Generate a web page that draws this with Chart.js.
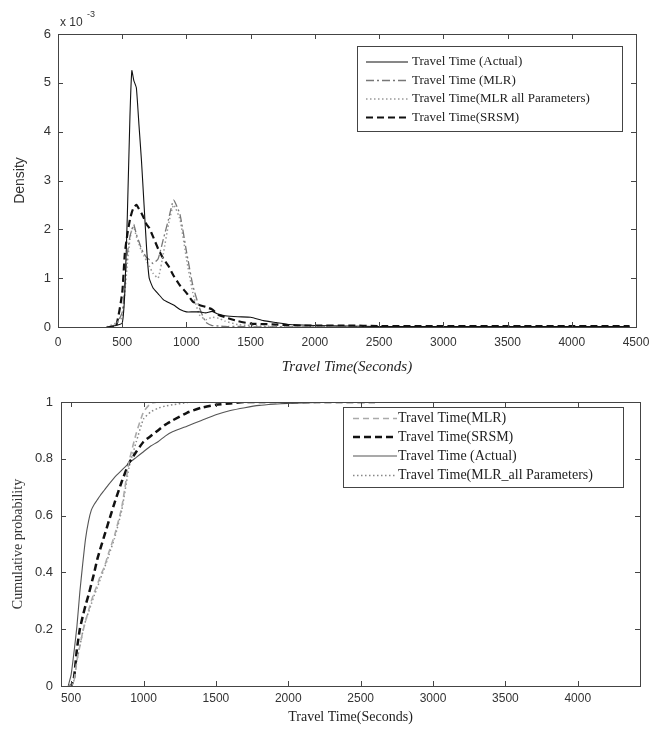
<!DOCTYPE html>
<html>
<head>
<meta charset="utf-8">
<script src="https://cdn.jsdelivr.net/npm/chart.js@4.4.0/dist/chart.umd.min.js"></script>
<style>
  html,body{margin:0;padding:0;background:#fff;}
  #wrap{position:relative;width:664px;height:733px;overflow:hidden;background:#fff;}
  canvas{position:absolute;left:0;}
</style>
</head>
<body>
<div id="wrap">
  <canvas id="c1" width="664" height="380" style="top:0;width:664px;height:380px"></canvas>
  <canvas id="c2" width="664" height="353" style="top:380px;width:664px;height:353px"></canvas>
</div>
<script>
// ---------- Top chart: density (x 10^-3) ----------
const densX = [380,450,500,520,540,560,575,590,610,630,650,670,690,710,740,780,820,860,900,950,1000,1050,1100,1150,1200,1250,1300,1400,1500,1600,1700,1800,1900,2000,2250,2500,3000,3500,4000,4450];
const densActual = [0,0.03,0.08,0.7,2.3,4.3,5.25,5.05,4.9,4.15,3.4,2.5,1.6,1.0,0.8,0.68,0.56,0.5,0.45,0.36,0.31,0.31,0.31,0.29,0.32,0.26,0.23,0.21,0.2,0.13,0.09,0.05,0.04,0.03,0.02,0.01,0.01,0.01,0.01,0.01];
const densMLR = [0,0.05,0.3,0.9,1.5,1.85,2.0,2.1,1.9,1.75,1.6,1.5,1.42,1.38,1.3,1.4,1.8,2.2,2.6,2.3,1.55,0.85,0.4,0.1,0.03,0.02,0.01,0.01,0,0,0,0,0,0,0,0,0,0,0,0];
const densMLRAll = [0,0.08,0.2,0.7,1.3,1.8,2.0,2.05,1.85,1.7,1.55,1.45,1.35,1.25,1.1,1.0,1.5,2.1,2.5,2.2,1.4,0.7,0.25,0.15,0.2,0.18,0.12,0.05,0.03,0.02,0.01,0,0,0,0,0,0,0,0,0];
const densSRSM = [0,0,0.7,1.5,1.9,2.2,2.35,2.45,2.5,2.42,2.33,2.22,2.1,2.03,1.85,1.6,1.4,1.25,1.05,0.85,0.7,0.52,0.45,0.41,0.36,0.25,0.2,0.12,0.07,0.06,0.05,0.04,0.03,0.03,0.03,0.02,0.02,0.02,0.02,0.02];
const densTicksX = [0,500,1000,1500,2000,2500,3000,3500,4000,4500];
const densTicksY = [0,1,2,3,4,5,6];

// ---------- Bottom chart: cumulative probability ----------
const cdfX = [480,500,520,540,560,580,600,620,640,660,680,700,730,760,800,850,900,950,1000,1050,1100,1150,1200,1300,1400,1500,1600,1700,1800,1900,2000,2200,2400,2600];
const cdfActual = [0,0.04,0.12,0.21,0.33,0.43,0.52,0.58,0.62,0.64,0.655,0.67,0.69,0.71,0.735,0.76,0.785,0.805,0.825,0.845,0.86,0.88,0.895,0.915,0.935,0.955,0.97,0.98,0.988,0.992,0.995,0.998,1.0,1.0];
const cdfMLR = [0,0,0.02,0.09,0.14,0.19,0.23,0.265,0.3,0.33,0.355,0.385,0.42,0.47,0.53,0.63,0.79,0.89,0.965,0.995,1,1,1,1,1,1,1,1,1,1,1,1,1,1];
const cdfSRSM = [0,0,0.03,0.13,0.2,0.245,0.285,0.32,0.36,0.4,0.445,0.48,0.53,0.58,0.645,0.72,0.785,0.825,0.86,0.88,0.9,0.92,0.935,0.962,0.98,0.99,0.995,1,1,1,1,1,1,1];
const cdfMLRAll = [0,0,0.02,0.09,0.14,0.19,0.23,0.26,0.29,0.32,0.345,0.375,0.415,0.46,0.52,0.62,0.77,0.86,0.94,0.965,0.978,0.986,0.99,0.998,1,1,1,1,1,1,1,1,1,1];
const cdfTicksX = [500,1000,1500,2000,2500,3000,3500,4000];
const cdfTicksY = [0,0.2,0.4,0.6,0.8,1];
const cdfTickLabelsY = ['0','0.2','0.4','0.6','0.8','1'];

function pts(xs, ys){ return xs.map((x,i)=>({x:x, y:ys[i]})); }

// frame with inward ticks on all four sides
const framePlugin = {
  id:'frame',
  afterDatasetsDraw(chart){
    const {ctx, chartArea:a, scales:{x,y}} = chart;
    ctx.save();
    ctx.strokeStyle = '#444';
    ctx.lineWidth = 1;
    ctx.setLineDash([]);
    ctx.strokeRect(Math.round(a.left)+0.5, Math.round(a.top)+0.5, Math.round(a.right-a.left), Math.round(a.bottom-a.top));
    const L = 5;
    ctx.beginPath();
    x.ticks.forEach(t=>{
      const px = Math.round(x.getPixelForValue(t.value))+0.5;
      ctx.moveTo(px, a.bottom); ctx.lineTo(px, a.bottom-L);
      ctx.moveTo(px, a.top); ctx.lineTo(px, a.top+L);
    });
    y.ticks.forEach(t=>{
      const py = Math.round(y.getPixelForValue(t.value))+0.5;
      ctx.moveTo(a.left, py); ctx.lineTo(a.left+L, py);
      ctx.moveTo(a.right, py); ctx.lineTo(a.right-L, py);
    });
    ctx.stroke();
    ctx.restore();
  }
};

// MATLAB-like legend box
const boxLegend = {
  id:'boxLegend',
  afterDraw(chart, args, o){
    if(!o || !o.box) return;
    const ctx = chart.ctx;
    const [l,t,r,b] = o.box;
    ctx.save();
    ctx.fillStyle = '#fff';
    ctx.fillRect(l,t,r-l,b-t);
    ctx.strokeStyle = '#444'; ctx.lineWidth = 1; ctx.setLineDash([]);
    ctx.strokeRect(l+0.5,t+0.5,r-l,b-t);
    ctx.font = o.font;
    ctx.textBaseline = 'middle';
    ctx.fillStyle = '#222';
    chart.data.datasets.forEach((ds,i)=>{
      const yy = o.rows[i];
      ctx.save();
      ctx.strokeStyle = ds.borderColor;
      ctx.lineWidth = ds.borderWidth;
      ctx.setLineDash(ds.borderDash || []);
      ctx.beginPath();
      ctx.moveTo(o.sample[0], yy); ctx.lineTo(o.sample[1], yy);
      ctx.stroke();
      ctx.restore();
      ctx.fillText(ds.label, o.textX, yy);
    });
    ctx.restore();
  }
};

const expPlugin = {
  id:'expLabel',
  afterDraw(chart, args, o){
    if(!o || !o.show) return;
    const ctx = chart.ctx;
    ctx.save();
    ctx.fillStyle = '#333';
    ctx.textBaseline = 'middle';
    ctx.font = '12px "Liberation Sans", Arial, sans-serif';
    ctx.fillText('x 10', 60, 23);
    ctx.font = '9px "Liberation Sans", Arial, sans-serif';
    ctx.fillText('-3', 87, 15);
    ctx.restore();
  }
};

const tickFont = {family:'"Liberation Sans", Arial, sans-serif', size:12};

function lineDs(label, xs, ys, color, width, dash){
  return {label, data:pts(xs,ys), borderColor:color, borderWidth:width, borderDash:dash,
          pointRadius:0, fill:false, tension:0.15, backgroundColor:color};
}

new Chart(document.getElementById('c1'), {
  type:'line',
  data:{datasets:[
    lineDs('Travel Time (Actual)', densX, densActual, '#111', 1.1, []),
    lineDs('Travel Time (MLR)', densX, densMLR, '#777', 1.3, [8,3,2,3]),
    lineDs('Travel Time(MLR all Parameters)', densX, densMLRAll, '#999', 1.5, [1.5,2.5]),
    lineDs('Travel Time(SRSM)', densX, densSRSM, '#111', 2.2, [7,4])
  ]},
  options:{
    responsive:false, animation:false,
    layout:{padding:{left:0,right:28,top:34,bottom:0}},
    plugins:{legend:{display:false}, tooltip:{enabled:false},
      boxLegend:{box:[357,46,622,131], rows:[62,80.5,99,117.5], sample:[366,408], textX:412,
                 font:'13px "Liberation Serif", "Times New Roman", serif'},
      expLabel:{show:true}},
    scales:{
      x:{type:'linear', min:0, max:4500,
         afterBuildTicks:s=>{s.ticks = densTicksX.map(v=>({value:v}));},
         afterFit:s=>{s.height = 53;},
         grid:{display:false, drawTicks:false}, border:{display:false},
         ticks:{padding:8, color:'#333', font:tickFont, maxRotation:0, autoSkip:false, callback:v=>String(v)},
         title:{display:true, text:'Travel Time(Seconds)', color:'#222',
                font:{family:'"Liberation Serif", "Times New Roman", serif', size:15, style:'italic'},
                padding:{top:0,bottom:4}}},
      y:{type:'linear', min:0, max:6,
         afterBuildTicks:s=>{s.ticks = densTicksY.map(v=>({value:v}));},
         afterFit:s=>{s.width = 58;},
         grid:{display:false, drawTicks:false}, border:{display:false},
         ticks:{padding:7, color:'#333', font:{family:'"Liberation Sans", Arial, sans-serif', size:13}, callback:v=>String(v)},
         title:{display:true, text:'Density', color:'#333',
                font:{family:'"Liberation Sans", Arial, sans-serif', size:14},
                padding:{top:12,bottom:0}}}
    }
  },
  plugins:[framePlugin, boxLegend, expPlugin]
});

new Chart(document.getElementById('c2'), {
  type:'line',
  data:{datasets:[
    lineDs('Travel Time(MLR)', cdfX, cdfMLR, '#aaa', 1.6, [6,4]),
    lineDs('Travel Time(SRSM)', cdfX, cdfSRSM, '#111', 2.5, [7,4]),
    lineDs('Travel Time (Actual)', cdfX, cdfActual, '#555', 1.1, []),
    lineDs('Travel Time(MLR_all Parameters)', cdfX, cdfMLRAll, '#888', 1.5, [1.5,2.5])
  ]},
  options:{
    responsive:false, animation:false,
    layout:{padding:{left:0,right:24,top:22,bottom:0}},
    plugins:{legend:{display:false}, tooltip:{enabled:false},
      boxLegend:{box:[343,27,623,107], rows:[38.5,57,76,95.5], sample:[353,397], textX:398,
                 font:'14px "Liberation Serif", "Times New Roman", serif'}},
    scales:{
      x:{type:'linear', min:430, max:4430,
         afterBuildTicks:s=>{s.ticks = cdfTicksX.map(v=>({value:v}));},
         afterFit:s=>{s.height = 47;},
         grid:{display:false, drawTicks:false}, border:{display:false},
         ticks:{padding:5, color:'#333', font:tickFont, maxRotation:0, autoSkip:false, callback:v=>String(v)},
         title:{display:true, text:'Travel Time(Seconds)', color:'#222',
                font:{family:'"Liberation Serif", "Times New Roman", serif', size:14},
                padding:{top:0,bottom:7}}},
      y:{type:'linear', min:0, max:1,
         afterBuildTicks:s=>{s.ticks = cdfTicksY.map(v=>({value:v}));},
         afterFit:s=>{s.width = 61;},
         grid:{display:false, drawTicks:false}, border:{display:false},
         ticks:{padding:8, color:'#333', font:{family:'"Liberation Sans", Arial, sans-serif', size:13},
                callback:(v,i)=>cdfTickLabelsY[i]},
         title:{display:true, text:'Cumulative probability', color:'#333',
                font:{family:'"Liberation Serif", "Times New Roman", serif', size:14},
                padding:{top:10,bottom:0}}}
    }
  },
  plugins:[framePlugin, boxLegend]
});
</script>
</body>
</html>
